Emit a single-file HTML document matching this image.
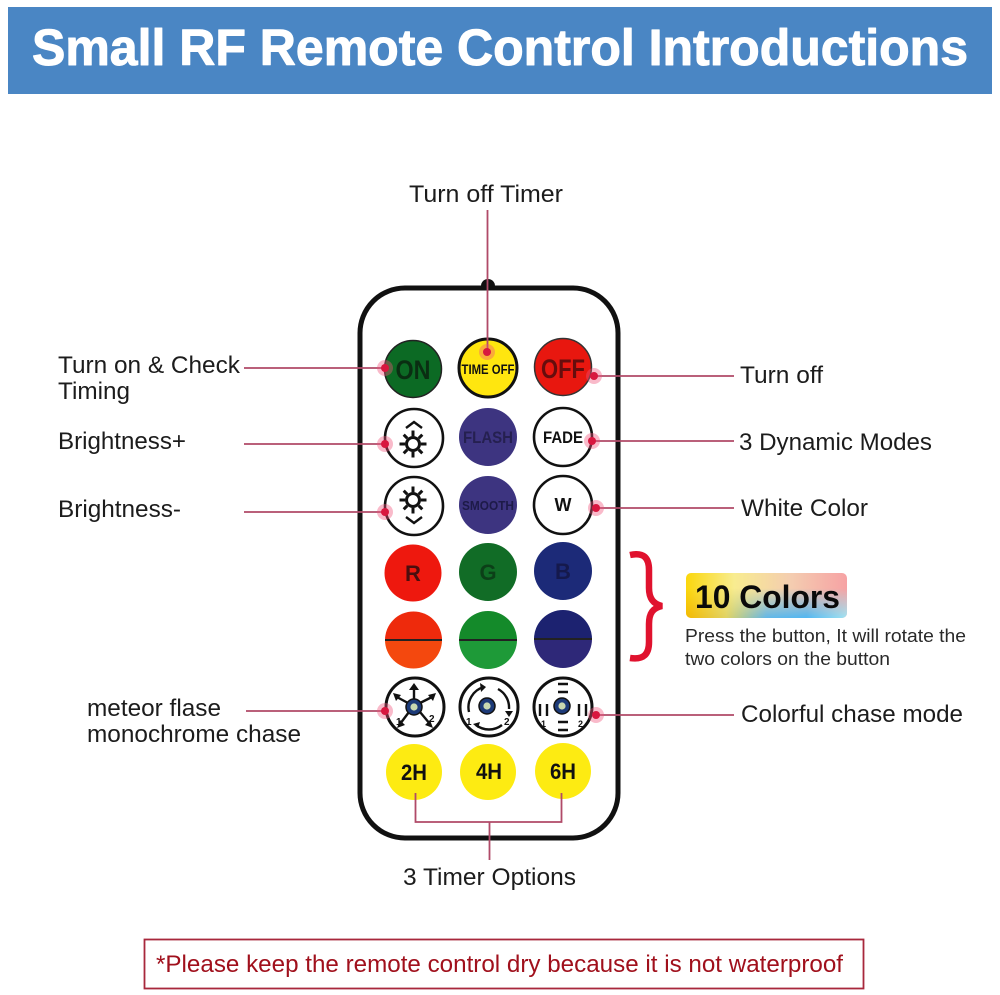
<!DOCTYPE html>
<html><head><meta charset="utf-8"><style>
html,body{margin:0;padding:0;background:#fff}
svg{display:block}
text{font-family:"Liberation Sans",sans-serif}
.l{font-size:24px;fill:#1c1c1c}
.b{font-weight:bold;text-anchor:middle;fill:#111}
.ln{stroke:#b04a68;stroke-width:1.8;fill:none}
.ic{stroke:#111;fill:none;stroke-width:2.4}
</style></head><body>
<svg width="1000" height="995" viewBox="0 0 1000 995" xmlns="http://www.w3.org/2000/svg">
<defs>
<linearGradient id="g1" x1="0" y1="0" x2="1" y2="0"><stop offset="0" stop-color="#fbd70c"/><stop offset=".3" stop-color="#f8ec90"/><stop offset=".65" stop-color="#f4cdb0"/><stop offset="1" stop-color="#f6a2a4"/></linearGradient>
<linearGradient id="g2" x1="0" y1="0" x2="1" y2="0"><stop offset="0" stop-color="#f2b400"/><stop offset=".25" stop-color="#dccf60"/><stop offset=".5" stop-color="#4fb2f0"/><stop offset=".75" stop-color="#3cb6fa"/><stop offset="1" stop-color="#96ecfc"/></linearGradient>
<linearGradient id="fade" x1="0" y1="0" x2="0" y2="1"><stop offset=".25" stop-color="#000"/><stop offset=".8" stop-color="#fff"/></linearGradient>
<mask id="m"><rect x="686" y="573" width="161" height="61" fill="url(#fade)"/></mask>
<g id="gear" class="ic"><circle r="6.500" stroke-width="3"/><path d="M0-8v-5.500M0 8v5.500M-8 0h-5.500M8 0h5.500M-5.700-5.700l-3.600-3.600M5.700-5.700l3.600-3.600M-5.700 5.700l-3.600 3.600M5.700 5.700l3.600 3.600" stroke-width="3"/></g>
<g id="hub"><circle r="8" fill="#1c3a78" stroke="#111" stroke-width="1.500"/><circle r="3.600" fill="#c8d8b0"/></g>
</defs>

<!-- header -->
<rect x="8" y="7" width="984" height="87" fill="#4a86c4"/>
<text x="32" y="65" font-size="51" font-weight="bold" fill="#fff" stroke="#fff" stroke-width="1" stroke-linejoin="round" textLength="936" lengthAdjust="spacingAndGlyphs">Small RF Remote Control Introductions</text>

<!-- remote body -->
<circle cx="488" cy="286" r="7" fill="#111"/>
<rect x="360" y="288" width="258" height="550" rx="45" ry="45" fill="#fff" stroke="#111" stroke-width="5"/>

<!-- row 1 -->
<circle cx="413" cy="369" r="28.500" fill="#0c6a24" stroke="#222" stroke-width="1.500"/>
<text x="413" y="379" class="b" font-size="27" textLength="35" lengthAdjust="spacingAndGlyphs" style="fill:#0a2e12">ON</text>
<circle cx="488" cy="368" r="29" fill="#ffe60f" stroke="#111" stroke-width="3"/>
<text x="488" y="374" class="b" font-size="14" textLength="53" lengthAdjust="spacingAndGlyphs">TIME OFF</text>
<circle cx="563" cy="367" r="28.500" fill="#e8170f" stroke="#333" stroke-width="1.500"/>
<text x="563" y="378" class="b" font-size="27" textLength="44" lengthAdjust="spacingAndGlyphs" style="fill:#660d0d">OFF</text>

<!-- row 2 -->
<circle cx="414" cy="438" r="29" fill="#fff" stroke="#111" stroke-width="2.600"/>
<use href="#gear" x="413" y="444"/>
<path class="ic" d="M406 428l8-6 8 6"/>
<circle cx="488" cy="437" r="29" fill="#3d3480"/>
<text x="488" y="443" class="b" font-size="17" textLength="50" lengthAdjust="spacingAndGlyphs" style="fill:#252050">FLASH</text>
<circle cx="563" cy="437" r="29" fill="#fff" stroke="#111" stroke-width="2.600"/>
<text x="563" y="443" class="b" font-size="17" textLength="40" lengthAdjust="spacingAndGlyphs">FADE</text>

<!-- row 3 -->
<circle cx="414" cy="506" r="29" fill="#fff" stroke="#111" stroke-width="2.600"/>
<use href="#gear" x="413" y="500"/>
<path class="ic" d="M406 517l8 6 8-6"/>
<circle cx="488" cy="505" r="29" fill="#3d3480"/>
<text x="488" y="510" class="b" font-size="13" textLength="52" lengthAdjust="spacingAndGlyphs" style="fill:#1d1a48">SMOOTH</text>
<circle cx="563" cy="505" r="29" fill="#fff" stroke="#111" stroke-width="2.600"/>
<text x="563" y="511" class="b" font-size="18">W</text>

<!-- row 4 -->
<circle cx="413" cy="573" r="28.500" fill="#ee180e"/>
<text x="413" y="581" class="b" font-size="22" style="fill:#4a0e0e">R</text>
<circle cx="488" cy="572" r="29" fill="#116c26"/>
<text x="488" y="580" class="b" font-size="22" style="fill:#0c3f18">G</text>
<circle cx="563" cy="571" r="29" fill="#1c2a78"/>
<text x="563" y="579" class="b" font-size="22" style="fill:#15194c">B</text>

<!-- row 5 -->
<path d="M385 640a28.500 28.500 0 0 1 57 0z" fill="#ee2a0c"/>
<path d="M385 640a28.500 28.500 0 0 0 57 0z" fill="#f4480e"/>
<path d="M459 640a29 29 0 0 1 58 0z" fill="#148a2a"/>
<path d="M459 640a29 29 0 0 0 58 0z" fill="#1e9a38"/>
<path d="M534 639a29 29 0 0 1 58 0z" fill="#1c2270"/>
<path d="M534 639a29 29 0 0 0 58 0z" fill="#2e2878"/>
<path d="M385 640h57M459 640h58M534 639h58" stroke="#222" stroke-width="2" fill="none"/>

<!-- row 6 -->
<circle cx="415" cy="707" r="29" fill="#fff" stroke="#111" stroke-width="3"/>
<path class="ic" d="M414 701v-15M408 703l-13-7M420 703l14-7M409 712l-9 12M420 712l10 12" stroke-width="2.600"/>
<path d="M414 683l-5 7h10zM393 693l3 8 5-6zM436 693l-8 2 5 6zM397 728l8-3-5-5zM433 728l-3-8-5 5z" fill="#111"/>
<use href="#hub" x="414" y="707"/>
<text x="396" y="725" font-size="10" fill="#111" font-weight="bold">1</text>
<text x="429" y="722" font-size="10" fill="#111" font-weight="bold">2</text>

<circle cx="489" cy="707" r="29" fill="#fff" stroke="#111" stroke-width="3"/>
<path class="ic" d="M469 712a21 21 0 0 1 15-25M498 689a21 21 0 0 1 11 20M476 725a21 21 0 0 0 26 0" stroke-width="2.800"/>
<path d="M480 683l6 4-5 5zM505 711h8l-4 6zM473 724l7-2-2 6z" fill="#111"/>
<use href="#hub" x="487" y="706"/>
<text x="466" y="725" font-size="10" fill="#111" font-weight="bold">1</text>
<text x="504" y="725" font-size="10" fill="#111" font-weight="bold">2</text>

<circle cx="563" cy="707" r="29" fill="#fff" stroke="#111" stroke-width="3"/>
<path class="ic" d="M558 684h10M558 692h10M558 722h10M558 730h10M540 704v12M547 704v12M579 704v12M586 704v12" stroke-width="2.600"/>
<use href="#hub" x="562" y="706"/>
<text x="541" y="727" font-size="9" fill="#111" font-weight="bold">1</text>
<text x="578" y="727" font-size="9" fill="#111" font-weight="bold">2</text>

<!-- row 7 -->
<circle cx="414" cy="772" r="28" fill="#fdeb12"/>
<circle cx="488" cy="772" r="28" fill="#fdeb12"/>
<circle cx="563" cy="771" r="28" fill="#fdeb12"/>
<text x="414" y="780" class="b" font-size="22" textLength="26" lengthAdjust="spacingAndGlyphs">2H</text>
<text x="489" y="779" class="b" font-size="22" textLength="26" lengthAdjust="spacingAndGlyphs">4H</text>
<text x="563" y="779" class="b" font-size="22" textLength="26" lengthAdjust="spacingAndGlyphs">6H</text>

<!-- connectors -->
<path class="ln" d="M487.500 210V352M244 368H385M244 444H385M244 512H385M246 711H385M594 376H734M592 441H734M596 508H734M596 715H734M415.500 793V822H561.500V793M489.500 822V860"/>
<g fill="#f0527a" fill-opacity=".4">
<circle cx="487" cy="352" r="8"/><circle cx="385" cy="368" r="8"/><circle cx="594" cy="376" r="8"/>
<circle cx="385" cy="444" r="8"/><circle cx="592" cy="441" r="8"/><circle cx="385" cy="512" r="8"/>
<circle cx="596" cy="508" r="8"/><circle cx="385" cy="711" r="8"/><circle cx="596" cy="715" r="8"/>
</g>
<g fill="#d8173f">
<circle cx="487" cy="352" r="4"/><circle cx="385" cy="368" r="4"/><circle cx="594" cy="376" r="4"/>
<circle cx="385" cy="444" r="4"/><circle cx="592" cy="441" r="4"/><circle cx="385" cy="512" r="4"/>
<circle cx="596" cy="508" r="4"/><circle cx="385" cy="711" r="4"/><circle cx="596" cy="715" r="4"/>
</g>

<!-- labels -->
<text x="409" y="202" class="l" textLength="154" lengthAdjust="spacingAndGlyphs">Turn off Timer</text>
<text x="58" y="373" class="l" textLength="182" lengthAdjust="spacingAndGlyphs">Turn on &amp; Check</text>
<text x="58" y="399" class="l" textLength="72" lengthAdjust="spacingAndGlyphs">Timing</text>
<text x="58" y="449" class="l" textLength="128" lengthAdjust="spacingAndGlyphs">Brightness+</text>
<text x="58" y="517" class="l" textLength="123" lengthAdjust="spacingAndGlyphs">Brightness-</text>
<text x="87" y="716" class="l" textLength="134" lengthAdjust="spacingAndGlyphs">meteor flase</text>
<text x="87" y="742" class="l" textLength="214" lengthAdjust="spacingAndGlyphs">monochrome chase</text>
<text x="740" y="383" class="l" textLength="83" lengthAdjust="spacingAndGlyphs">Turn off</text>
<text x="739" y="450" class="l" textLength="193" lengthAdjust="spacingAndGlyphs">3 Dynamic Modes</text>
<text x="741" y="516" class="l" textLength="127" lengthAdjust="spacingAndGlyphs">White Color</text>
<text x="741" y="722" class="l" textLength="222" lengthAdjust="spacingAndGlyphs">Colorful chase mode</text>
<text x="403" y="885" class="l" textLength="173" lengthAdjust="spacingAndGlyphs">3 Timer Options</text>

<!-- brace -->
<path d="M630 555C644 552 649 558 649 570V588C649 598 653 604 662 606C653 608 649 613 649 624V642C649 654 644 660 630 658" fill="none" stroke="#e0122e" stroke-width="6.500"/>

<!-- 10 colors -->
<rect x="686" y="573" width="161" height="45" rx="5" fill="url(#g1)"/>
<rect x="686" y="573" width="161" height="45" rx="5" fill="url(#g2)" mask="url(#m)"/>
<text x="695" y="608" font-size="32" font-weight="bold" fill="#0a0a0a" textLength="145" lengthAdjust="spacingAndGlyphs">10 Colors</text>
<text x="685" y="642" font-size="18.500" fill="#2a2a2a" textLength="281" lengthAdjust="spacingAndGlyphs">Press the button, It will rotate the</text>
<text x="685" y="665" font-size="18.500" fill="#2a2a2a" textLength="205" lengthAdjust="spacingAndGlyphs">two colors on the button</text>

<!-- notice -->
<rect x="144.500" y="939.500" width="719" height="49" fill="#fff" stroke="#a8283c" stroke-width="1.800"/>
<text x="156" y="972" font-size="24" fill="#a0101c" textLength="687" lengthAdjust="spacingAndGlyphs">*Please keep the remote control dry because it is not waterproof</text>
</svg>
</body></html>
